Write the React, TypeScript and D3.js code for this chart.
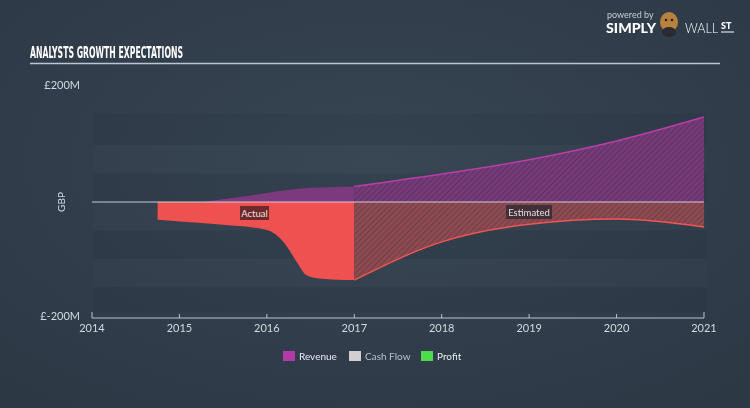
import React from "react";
import * as d3 from "d3";

const xTicks = [2014, 2015, 2016, 2017, 2018, 2019, 2020, 2021];
const yLabels = ["£200M", "£-200M"];
const bandEdges = [155, 100, 50, 0, -50, -100, -150, -193];

const revenueActualX = [2015.24, 2015.5, 2015.75, 2016.0, 2016.25, 2016.5, 2016.75, 2017.0];
const revenueActual = [0, 5, 10, 16, 21, 25, 26, 27];
const revenueEstX = [2017, 2018, 2019, 2020, 2021];
const revenueEst = [27, 49, 74, 107, 149];

const profitActualX = [2014.75, 2015.0, 2015.5, 2016.0, 2016.19, 2016.35, 2016.45, 2016.6, 2017.0];
const profitActual = [-31, -34, -40, -49, -70, -107, -128, -134, -137];
const profitEstX = [2017, 2018, 2019, 2020, 2021];
const profitEst = [-137, -70, -39, -30, -44];

const legendItems = ["Revenue", "Cash Flow", "Profit"];
const legendColors = ["#b23aa6", "#d0d0d0", "#4ddc4d"];

const W = 750;
const H = 408;

export default function App() {
  const x = d3.scaleLinear().domain([2014, 2021]).range([92, 704]);
  const y = d3.scaleLinear().domain([-200, 200]).range([316, 88]);

  const area = (xs: number[], vs: number[]) =>
    d3
      .area<number>()
      .x((_, i) => x(xs[i]))
      .y0(y(0))
      .y1((v) => y(v))
      .curve(d3.curveMonotoneX)(vs) as string;
  const line = (xs: number[], vs: number[]) =>
    d3
      .line<number>()
      .x((_, i) => x(xs[i]))
      .y((v) => y(v))
      .curve(d3.curveMonotoneX)(vs) as string;

  const font = "Lato, 'Open Sans', sans-serif";

  return (
    <div style={{ position: "fixed", left: 0, top: 0, width: W, height: H, overflow: "hidden" }}>
      <svg width={W} height={H} style={{ display: "block" }}>
        <defs>
          <radialGradient id="bg" cx="50%" cy="40%" r="75%">
            <stop offset="0%" stopColor="#374452" />
            <stop offset="100%" stopColor="#2d3845" />
          </radialGradient>
          <pattern id="hatchRev" width="4" height="4" patternUnits="userSpaceOnUse" patternTransform="rotate(45)">
            <rect width="4" height="4" fill="#763a78" />
            <line x1="0" y1="0" x2="0" y2="4" stroke="#4e2f55" strokeWidth="1.3" />
          </pattern>
          <pattern id="hatchProf" width="4" height="4" patternUnits="userSpaceOnUse" patternTransform="rotate(45)">
            <rect width="4" height="4" fill="#8e4a50" />
            <line x1="0" y1="0" x2="0" y2="4" stroke="#5a3a44" strokeWidth="1.3" />
          </pattern>
        </defs>
        <rect width={W} height={H} fill="url(#bg)" />

        {/* logo */}
        <text x={607} y={18} fill="#c8ccd2" fontSize={9} fontFamily={font}>powered by</text>
        <text x={606} y={33} fill="#ffffff" fontSize={14} fontWeight={900} fontFamily={font} textLength={50} lengthAdjust="spacingAndGlyphs">SIMPLY</text>
        <g>
          <ellipse cx={669} cy={22} rx={9} ry={10} fill="#b8823e" />
          <ellipse cx={669} cy={32} rx={7} ry={5} fill="#2a2a30" />
          <circle cx={666} cy={20} r={1.3} fill="#222" />
          <circle cx={672} cy={20} r={1.3} fill="#222" />
        </g>
        <text x={685} y={33} fill="#ffffff" fontSize={14} fontWeight={300} fontFamily={font} textLength={33} lengthAdjust="spacingAndGlyphs">WALL</text>
        <text x={721} y={29} fill="#ffffff" fontSize={9} fontWeight={900} fontFamily={font}>ST</text>
        <line x1={721} y1={32} x2={734} y2={32} stroke="#fff" strokeWidth={1} />

        {/* title */}
        <text x={30} y={58} fill="#ffffff" fontSize={15} fontWeight="bold" fontFamily="'DejaVu Sans Condensed', 'Liberation Sans Narrow', sans-serif" textLength={153} lengthAdjust="spacingAndGlyphs">
          ANALYSTS GROWTH EXPECTATIONS
        </text>
        <line x1={30} x2={720} y1={63.5} y2={63.5} stroke="#b9c7d4" strokeWidth={1.3} />

        {/* bands */}
        {bandEdges.slice(0, -1).map((v, i) => (
          <rect
            key={i}
            x={x(2014) + 1}
            width={x(2021) - x(2014) + 2}
            y={y(v)}
            height={y(bandEdges[i + 1]) - y(v)}
            fill={i % 2 === 0 ? "rgba(20,28,38,0.07)" : "rgba(255,255,255,0.012)"}
          />
        ))}

        {/* y labels */}
        <text x={80} y={89} textAnchor="end" fill="#d4dae0" fontSize={11} fontFamily={font}>{yLabels[0]}</text>
        <text x={80} y={320} textAnchor="end" fill="#d4dae0" fontSize={11} fontFamily={font}>{yLabels[1]}</text>
        <text transform={`translate(65,${y(0)}) rotate(-90)`} textAnchor="middle" fill="#d4dae0" fontSize={10} fontFamily={font}>GBP</text>

        {/* areas */}
        <path d={area(revenueActualX, revenueActual)} fill="#7c3a7e" />
        <path d={area(profitActualX, profitActual)} fill="#ef5050" />
        <path d={area(revenueEstX, revenueEst)} fill="url(#hatchRev)" />
        <path d={area(profitEstX, profitEst)} fill="url(#hatchProf)" />
        <path d={line(revenueEstX, revenueEst)} fill="none" stroke="#b93fa9" strokeWidth={1.5} />
        <path d={line(profitEstX, profitEst)} fill="none" stroke="#f05555" strokeWidth={1.5} />

        {/* cash flow zero line */}
        <line x1={x(2014)} x2={x(2021)} y1={y(0)} y2={y(0)} stroke="#dfe4ea" strokeWidth={1.2} opacity={0.85} />

        {/* labels */}
        <rect x={240} y={206} width={29} height={14} fill="#6e2a2a" />
        <text x={254.5} y={216.5} textAnchor="middle" fill="#f0e0e0" fontSize={9.5} fontFamily={font}>Actual</text>
        <rect x={506} y={205} width={46} height={14} fill="#3a2e36" opacity={0.9} />
        <text x={529} y={215.5} textAnchor="middle" fill="#e8e0e4" fontSize={9.5} fontFamily={font}>Estimated</text>

        {/* x axis */}
        <line x1={x(2014)} x2={x(2021)} y1={318} y2={318} stroke="#b9c4cf" strokeWidth={1} />
        {xTicks.map((t, i) => (
          <g key={t}>
            <line x1={x(t)} x2={x(t)} y1={i === 0 || i === xTicks.length - 1 ? 312 : 314} y2={318} stroke="#b9c4cf" />
            <text x={x(t)} y={332} textAnchor="middle" fill="#d4dae0" fontSize={11} fontFamily={font}>{t}</text>
          </g>
        ))}

        {/* legend */}
        {legendItems.map((name, i) => {
          const lx = [283, 349, 421][i];
          return (
            <g key={name}>
              <rect x={lx} y={351} width={12} height={10} fill={legendColors[i]} />
              <text x={lx + 16} y={360} fill={i === 1 ? "#b8c0c8" : "#e8ecf0"} fontSize={10} fontFamily={font}>{name}</text>
            </g>
          );
        })}
      </svg>
    </div>
  );
}
